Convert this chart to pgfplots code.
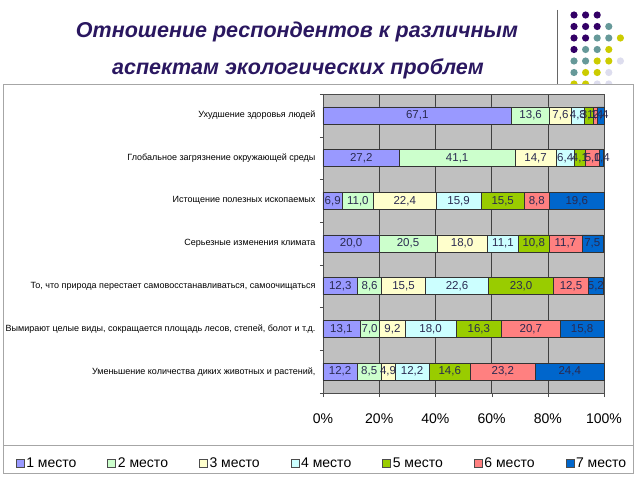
\documentclass[border=0pt]{standalone}
\usepackage{pgfplots}
\pgfplotsset{compat=1.18}
\usepackage{pgfplotstable}
\usepackage{fontspec}
\setmainfont{Liberation Sans}
\definecolor{cA}{HTML}{9999FF}
\definecolor{cB}{HTML}{CCFFCC}
\definecolor{cC}{HTML}{FFFFCC}
\definecolor{cD}{HTML}{CCFFFF}
\definecolor{cE}{HTML}{99CC00}
\definecolor{cF}{HTML}{FF8080}
\definecolor{cG}{HTML}{0066CC}
\definecolor{bgray}{HTML}{C0C0C0}
\definecolor{titlec}{HTML}{2A1760}
\definecolor{dP}{HTML}{330066}
\definecolor{dT}{HTML}{669999}
\definecolor{dY}{HTML}{CCCC00}
\definecolor{dL}{HTML}{DDDDEE}
\definecolor{labc}{HTML}{2A2A50}
\pgfplotstableread{
y c1 c2 c3 c4 c5 c6 c7
6 67.1 13.6 7.6 4.8 3.1 1.4 2.4
5 27.2 41.1 14.7 6.4 4.1 5.0 1.4
4 6.9 11.0 22.4 15.9 15.5 8.8 19.6
3 20.0 20.5 18.0 11.1 10.8 11.7 7.5
2 12.3 8.6 15.5 22.6 23.0 12.5 5.2
1 13.1 7.0 9.2 18.0 16.3 20.7 15.8
0 12.2 8.5 4.9 12.2 14.6 23.2 24.4
}\data
\begin{document}
\begin{tikzpicture}[x=1pt,y=1pt]
\useasboundingbox (0,0) rectangle (640,480);
\fill[white] (0,0) rectangle (640,480);
% title
\node[font=\fontsize{21.5}{24}\selectfont\bfseries\itshape, text=titlec] at (297,448) {Отношение респондентов  к различным};
\node[font=\fontsize{21.5}{24}\selectfont\bfseries\itshape, text=titlec] at (298,411) {аспектам экологических проблем};
% decoration
\draw[gray!80!black, line width=0.8pt] (557,470) -- (557,395);
\foreach \r/\cols in {0/{dP,dP,dP},1/{dP,dP,dP,dT},2/{dP,dP,dT,dT,dY},3/{dP,dT,dT,dY},4/{dT,dT,dY,dY,dL},5/{dT,dY,dY,dL},6/{dY,dY,dL,dL}}{
  \foreach \c [count=\i from 0] in \cols {
    \fill[\c] (574+11.6*\i, 465-11.5*\r) circle (3.6);
  }
}
% frame
\fill[white] (3,7) rectangle (633,396);
\draw[gray!70, line width=0.8pt] (3,7) rectangle (633,396);
\draw[gray!70, line width=0.8pt] (3,35) -- (633,35);
\begin{axis}[
  at={(323pt,87pt)}, anchor=south west,
  width=281pt, height=299pt, scale only axis,
  xbar stacked,
  bar width=0.4,
  xmin=0, xmax=100,
  ymin=-0.5, ymax=6.5,
  clip=false,
  axis background/.style={fill=bgray},
  axis line style={draw=gray!60!black},
  xmajorgrids, grid style={draw=gray!50!black, line width=0.6pt},
  xtick={0,20,40,60,80,100},
  xticklabel={\pgfmathprintnumber{\tick}\%},
  /pgf/number format/assume math mode=true,
  xticklabel style={font=\fontsize{14}{16}\selectfont, yshift=-13pt},
  tick align=outside,
  major tick length=4pt,
  tick style={draw=gray!60!black},
  ytick={0,...,6},
  yticklabels={{Уменьшение количества диких животных и растений,},{Вымирают целые виды, сокращается площадь лесов, степей, болот и т.д.},{То, что природа перестает самовосстанавливаться, самоочищаться},{Серьезные изменения климата},{Истощение полезных ископаемых},{Глобальное загрязнение окружающей среды},{Ухудшение здоровья людей}},
  ytick style={draw=none},
  yticklabel style={font=\fontsize{9}{10}\selectfont, xshift=0pt},
  extra y ticks={-0.5,0.5,1.5,2.5,3.5,4.5,5.5,6.5},
  extra y tick labels={},
  extra y tick style={ytick style={draw=gray!60!black}, major tick length=3pt},
  xtick pos=bottom, ytick pos=left,
  point meta=explicit,
  nodes near coords={\pgfmathprintnumber[fixed,fixed zerofill,precision=1,use comma]{\pgfplotspointmeta}},
  every node near coord/.append style={anchor=center, font=\fontsize{11.5}{12}\selectfont, text=labc, inner sep=0pt},
  legend columns=7,
  legend style={at={(-0.0036,-0.234)}, anchor=center, draw=none, fill=none, font=\fontsize{14}{16}\selectfont, /tikz/every even column/.append style={column sep=29pt}},
  legend image code/.code={\draw[#1, draw=black!70, line width=0.5pt] (0pt,-4pt) rectangle (8pt,4pt);},
  every axis plot/.append style={draw=black!80, line width=0.6pt},
]
\addplot[fill=cA] table[x=c1,y=y,meta=c1] {\data};
\addplot[fill=cB] table[x=c2,y=y,meta=c2] {\data};
\addplot[fill=cC] table[x=c3,y=y,meta=c3] {\data};
\addplot[fill=cD] table[x=c4,y=y,meta=c4] {\data};
\addplot[fill=cE] table[x=c5,y=y,meta=c5] {\data};
\addplot[fill=cF] table[x=c6,y=y,meta=c6] {\data};
\addplot[fill=cG] table[x=c7,y=y,meta=c7] {\data};
\legend{1 место,2 место,3 место,4 место,5 место,6 место,7 место}
\end{axis}
\end{tikzpicture}
\end{document}
